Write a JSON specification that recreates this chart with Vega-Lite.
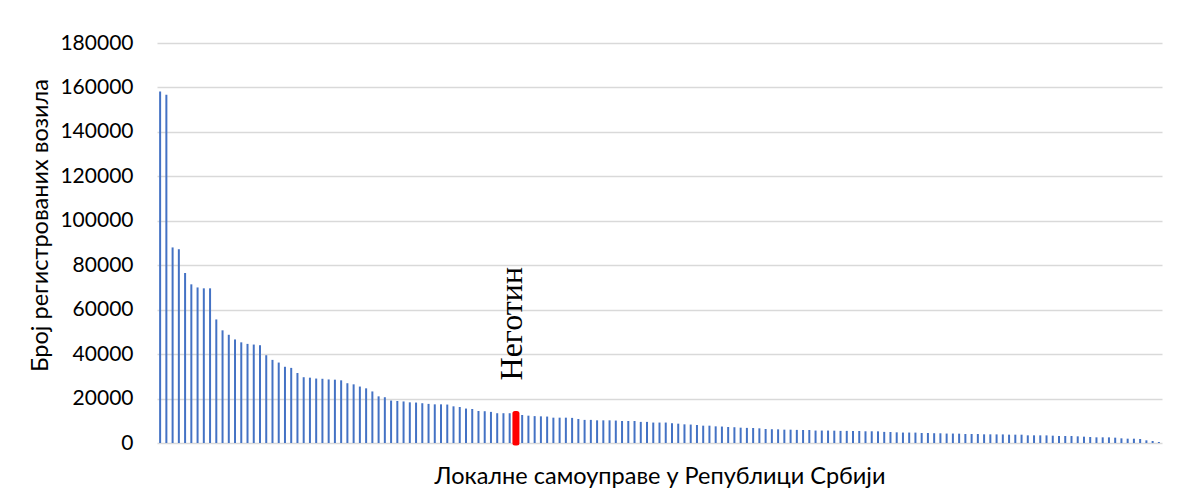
{
  "$schema": "https://vega.github.io/schema/vega-lite/v6.json",
  "autosize": "none",
  "width": 1005,
  "height": 400,
  "padding": {"left": 157, "top": 43, "right": 20, "bottom": 46},
  "background": "white",
  "config": {
    "view": {"stroke": null},
    "font": "Lato",
    "axis": {"labelFont": "Lato", "titleFont": "Lato", "labelColor": "#000000", "titleColor": "#000000"}
  },
  "data": {
    "values": [
      {"rang": 1, "vozila": 158200}, {"rang": 2, "vozila": 156700}, {"rang": 3, "vozila": 88000}, {"rang": 4, "vozila": 87200},
      {"rang": 5, "vozila": 76500}, {"rang": 6, "vozila": 71400}, {"rang": 7, "vozila": 70000}, {"rang": 8, "vozila": 69600},
      {"rang": 9, "vozila": 69600}, {"rang": 10, "vozila": 55600}, {"rang": 11, "vozila": 50700}, {"rang": 12, "vozila": 48700},
      {"rang": 13, "vozila": 46600}, {"rang": 14, "vozila": 45300}, {"rang": 15, "vozila": 44600}, {"rang": 16, "vozila": 44300},
      {"rang": 17, "vozila": 44000}, {"rang": 18, "vozila": 39500}, {"rang": 19, "vozila": 37400}, {"rang": 20, "vozila": 36200},
      {"rang": 21, "vozila": 34300}, {"rang": 22, "vozila": 33800}, {"rang": 23, "vozila": 31500}, {"rang": 24, "vozila": 29600},
      {"rang": 25, "vozila": 29400}, {"rang": 26, "vozila": 29000}, {"rang": 27, "vozila": 28900}, {"rang": 28, "vozila": 28600},
      {"rang": 29, "vozila": 28500}, {"rang": 30, "vozila": 28200}, {"rang": 31, "vozila": 26900}, {"rang": 32, "vozila": 26400},
      {"rang": 33, "vozila": 25400}, {"rang": 34, "vozila": 24600}, {"rang": 35, "vozila": 23200}, {"rang": 36, "vozila": 21000},
      {"rang": 37, "vozila": 20600}, {"rang": 38, "vozila": 19100}, {"rang": 39, "vozila": 18900}, {"rang": 40, "vozila": 18700},
      {"rang": 41, "vozila": 18300}, {"rang": 42, "vozila": 18200}, {"rang": 43, "vozila": 17900}, {"rang": 44, "vozila": 17600},
      {"rang": 45, "vozila": 17400}, {"rang": 46, "vozila": 17400}, {"rang": 47, "vozila": 17300}, {"rang": 48, "vozila": 16500},
      {"rang": 49, "vozila": 16200}, {"rang": 50, "vozila": 15500}, {"rang": 51, "vozila": 15300}, {"rang": 52, "vozila": 14400},
      {"rang": 53, "vozila": 14300}, {"rang": 54, "vozila": 14000}, {"rang": 55, "vozila": 13400}, {"rang": 56, "vozila": 13400},
      {"rang": 57, "vozila": 13400}, {"rang": 58, "vozila": 13300, "opstina": "Неготин"}, {"rang": 59, "vozila": 12600}, {"rang": 60, "vozila": 12300},
      {"rang": 61, "vozila": 12100}, {"rang": 62, "vozila": 12000}, {"rang": 63, "vozila": 11900}, {"rang": 64, "vozila": 11400},
      {"rang": 65, "vozila": 11400}, {"rang": 66, "vozila": 11400}, {"rang": 67, "vozila": 11300}, {"rang": 68, "vozila": 10800},
      {"rang": 69, "vozila": 10400}, {"rang": 70, "vozila": 10400}, {"rang": 71, "vozila": 10200}, {"rang": 72, "vozila": 10200},
      {"rang": 73, "vozila": 10200}, {"rang": 74, "vozila": 10100}, {"rang": 75, "vozila": 9900}, {"rang": 76, "vozila": 9900},
      {"rang": 77, "vozila": 9900}, {"rang": 78, "vozila": 9500}, {"rang": 79, "vozila": 9500}, {"rang": 80, "vozila": 9200},
      {"rang": 81, "vozila": 9200}, {"rang": 82, "vozila": 9200}, {"rang": 83, "vozila": 8900}, {"rang": 84, "vozila": 8700},
      {"rang": 85, "vozila": 8400}, {"rang": 86, "vozila": 8300}, {"rang": 87, "vozila": 8100}, {"rang": 88, "vozila": 7800},
      {"rang": 89, "vozila": 7800}, {"rang": 90, "vozila": 7500}, {"rang": 91, "vozila": 7400}, {"rang": 92, "vozila": 7200},
      {"rang": 93, "vozila": 7100}, {"rang": 94, "vozila": 6900}, {"rang": 95, "vozila": 6800}, {"rang": 96, "vozila": 6750},
      {"rang": 97, "vozila": 6600}, {"rang": 98, "vozila": 6300}, {"rang": 99, "vozila": 6200}, {"rang": 100, "vozila": 6150},
      {"rang": 101, "vozila": 6000}, {"rang": 102, "vozila": 6000}, {"rang": 103, "vozila": 5900}, {"rang": 104, "vozila": 5850},
      {"rang": 105, "vozila": 5850}, {"rang": 106, "vozila": 5600}, {"rang": 107, "vozila": 5600}, {"rang": 108, "vozila": 5600},
      {"rang": 109, "vozila": 5550}, {"rang": 110, "vozila": 5450}, {"rang": 111, "vozila": 5450}, {"rang": 112, "vozila": 5400},
      {"rang": 113, "vozila": 5400}, {"rang": 114, "vozila": 5270}, {"rang": 115, "vozila": 5270}, {"rang": 116, "vozila": 5250},
      {"rang": 117, "vozila": 5000}, {"rang": 118, "vozila": 4950}, {"rang": 119, "vozila": 4800}, {"rang": 120, "vozila": 4700},
      {"rang": 121, "vozila": 4700}, {"rang": 122, "vozila": 4680}, {"rang": 123, "vozila": 4500}, {"rang": 124, "vozila": 4500},
      {"rang": 125, "vozila": 4400}, {"rang": 126, "vozila": 4370}, {"rang": 127, "vozila": 4250}, {"rang": 128, "vozila": 4250},
      {"rang": 129, "vozila": 4200}, {"rang": 130, "vozila": 4060}, {"rang": 131, "vozila": 4050}, {"rang": 132, "vozila": 4040},
      {"rang": 133, "vozila": 3900}, {"rang": 134, "vozila": 3900}, {"rang": 135, "vozila": 3880}, {"rang": 136, "vozila": 3870},
      {"rang": 137, "vozila": 3760}, {"rang": 138, "vozila": 3750}, {"rang": 139, "vozila": 3740}, {"rang": 140, "vozila": 3450},
      {"rang": 141, "vozila": 3450}, {"rang": 142, "vozila": 3440}, {"rang": 143, "vozila": 3430}, {"rang": 144, "vozila": 3300},
      {"rang": 145, "vozila": 3150}, {"rang": 146, "vozila": 3150}, {"rang": 147, "vozila": 3140}, {"rang": 148, "vozila": 3000},
      {"rang": 149, "vozila": 2850}, {"rang": 150, "vozila": 2700}, {"rang": 151, "vozila": 2550}, {"rang": 152, "vozila": 2550},
      {"rang": 153, "vozila": 2540}, {"rang": 154, "vozila": 2400}, {"rang": 155, "vozila": 2100}, {"rang": 156, "vozila": 1950},
      {"rang": 157, "vozila": 1940}, {"rang": 158, "vozila": 1800}, {"rang": 159, "vozila": 1200}, {"rang": 160, "vozila": 900},
      {"rang": 161, "vozila": 450}
    ]
  },
  "encoding": {
    "x": {
      "field": "rang",
      "type": "ordinal",
      "sort": null,
      "scale": {"paddingInner": 0, "paddingOuter": 0},
      "axis": {
        "title": "Локалне самоуправе у Републици Србији",
        "titleFontSize": 23.5,
        "titleFontWeight": "normal",
        "titlePadding": 21,
        "labels": false,
        "ticks": false,
        "domain": false,
        "grid": false
      }
    },
    "y": {
      "field": "vozila",
      "type": "quantitative",
      "scale": {"domain": [0, 180000], "nice": false},
      "axis": {
        "title": "Број регистрованих возила",
        "titleFontSize": 23.5,
        "titleFontWeight": "normal",
        "titlePadding": 7,
        "titleY": 182,
        "values": [0, 20000, 40000, 60000, 80000, 100000, 120000, 140000, 160000, 180000],
        "format": "d",
        "labelFontSize": 21,
        "labelPadding": 24,
        "ticks": false,
        "tickSize": 0,
        "domain": false,
        "grid": true,
        "gridColor": "#d9d9d9",
        "gridWidth": 1.3
      }
    }
  },
  "layer": [
    {
      "mark": {"type": "bar", "width": 2, "color": "#4472c4"}
    },
    {
      "transform": [{"filter": "datum.opstina == 'Неготин'"}],
      "mark": {"type": "bar", "width": 2, "color": "#ff0000", "stroke": "#ff0000", "strokeWidth": 5, "strokeJoin": "round"}
    },
    {
      "transform": [{"filter": "datum.opstina == 'Неготин'"}],
      "mark": {"type": "text", "angle": 270, "align": "left", "baseline": "alphabetic", "dx": 33, "dy": 6, "font": "Liberation Serif", "fontSize": 32, "color": "#000000"},
      "encoding": {"text": {"field": "opstina"}}
    }
  ]
}
